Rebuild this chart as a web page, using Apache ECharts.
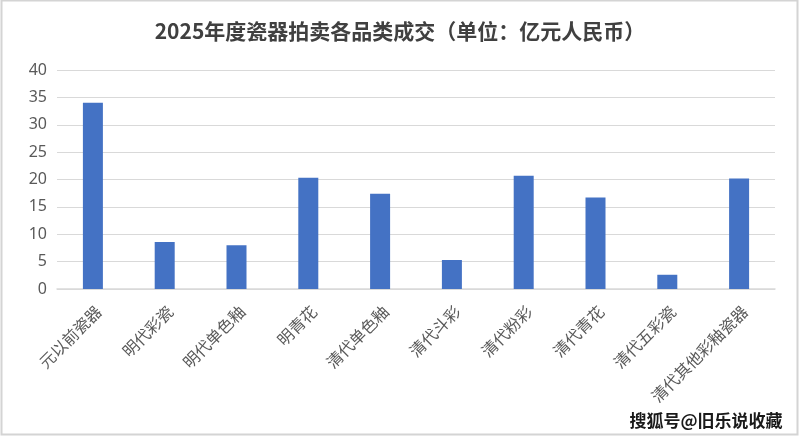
<!DOCTYPE html>
<html>
<head>
<meta charset="utf-8">
<script src="https://cdn.jsdelivr.net/npm/echarts@6/dist/echarts.min.js"></script>
<style>
html,body{margin:0;padding:0;background:#fff;}
#chart{width:800px;height:437px;}
</style>
</head>
<body>
<div id="chart"></div>
<script>
const titleText = '2025年度瓷器拍卖各品类成交（单位：亿元人民币）';
const categories = ['元以前瓷器','明代彩瓷','明代单色釉','明青花','清代单色釉','清代斗彩','清代粉彩','清代青花','清代五彩瓷','清代其他彩釉瓷器'];
const values = [34.0, 8.6, 8.0, 20.3, 17.4, 5.3, 20.7, 16.7, 2.6, 20.2];
const watermark = '搜狐号@旧乐说收藏';

const chart = echarts.init(document.getElementById('chart'));
chart.setOption({
  backgroundColor: '#ffffff',
  animation: false,
  title: {
    text: titleText,
    left: 'center',
    top: 16,
    textStyle: {
      fontFamily: 'Noto Sans CJK SC',
      fontSize: 21,
      fontWeight: 'bold',
      color: '#404040'
    }
  },
  grid: { left: 57, right: 25, top: 70, bottom: 148, containLabel: false },
  xAxis: {
    type: 'category',
    data: categories,
    axisLine: { lineStyle: { color: '#d9d9d9', width: 1.5 } },
    axisTick: { show: false },
    axisLabel: {
      interval: 0,
      rotate: 45,
      margin: 14,
      verticalAlign: 'top',
      fontFamily: 'Noto Sans CJK SC',
      fontSize: 16,
      color: '#595959'
    }
  },
  yAxis: {
    type: 'value',
    min: 0,
    max: 40,
    interval: 5,
    axisLine: { show: false },
    axisTick: { show: false },
    splitLine: { lineStyle: { color: '#d9d9d9', width: 1 } },
    axisLabel: {
      margin: 10,
      fontFamily: 'Noto Sans',
      fontSize: 16,
      color: '#595959'
    }
  },
  series: [{
    type: 'bar',
    data: values,
    barWidth: 20,
    itemStyle: { color: '#4472C4' }
  }],
  graphic: [
    {
      type: 'rect',
      shape: { x: 1.5, y: 0.5, width: 796, height: 434 },
      style: { fill: 'none', stroke: '#d4d4d4', lineWidth: 2 },
      silent: true
    },
    {
      type: 'text',
      right: 16,
      top: 411,
      style: {
        text: watermark,
        fontFamily: 'Noto Sans CJK SC',
        fontSize: 17,
        fontWeight: 'bold',
        fill: '#1a1a1a',
        stroke: '#ffffff',
        lineWidth: 3
      },
      z: 100
    }
  ]
});
</script>
</body>
</html>
